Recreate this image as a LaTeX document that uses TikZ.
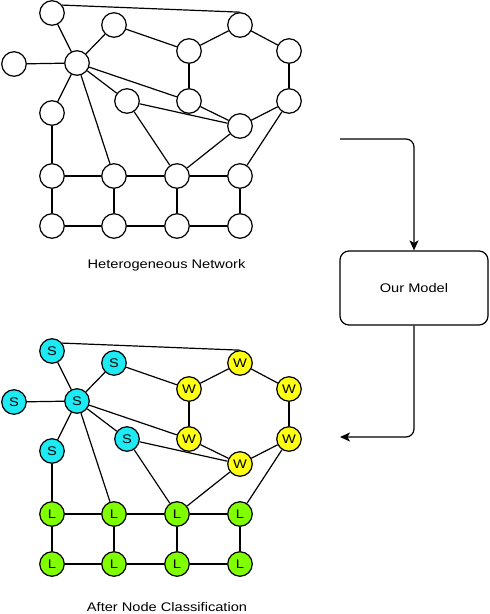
\documentclass[tikz,border=0pt]{standalone}
\usepackage{fontspec}
\setmainfont{Liberation Sans}[FakeStretch=1.17]
\usetikzlibrary{arrows.meta}
\definecolor{ncyan}{HTML}{1EEAF4}
\definecolor{nyellow}{HTML}{FFFF14}
\definecolor{ngreen}{HTML}{80FF00}
\newcommand{\mynet}[8]{%
\begin{scope}[shift={(0,#2)}]
\node[#6] (#1a) at (52,13) {#3};
\node[#6] (#1b) at (114,25) {#3};
\node[#7] (#1c) at (240,25) {#4};
\node[#7] (#1d) at (189,51) {#4};
\node[#7] (#1e) at (289,51) {#4};
\node[#6] (#1h) at (77,63) {#3};
\node[#6] (#1l) at (14,64) {#3};
\node[#6] (#1f) at (127,101) {#3};
\node[#7] (#1g) at (189,101) {#4};
\node[#7] (#1i) at (289,101) {#4};
\node[#7] (#1j) at (240,126) {#4};
\node[#6] (#1s) at (52,113) {#3};
\node[#8] (#1r1) at (52,176) {#5};
\node[#8] (#1r2) at (114,176) {#5};
\node[#8] (#1r3) at (177,176) {#5};
\node[#8] (#1r4) at (240,176) {#5};
\node[#8] (#1q1) at (52,226) {#5};
\node[#8] (#1q2) at (114,226) {#5};
\node[#8] (#1q3) at (177,226) {#5};
\node[#8] (#1q4) at (240,226) {#5};
\end{scope}
\draw[edge] (#1a.38) -- (#1c.north);
\draw[edge] (#1a) -- (#1h);
\draw[edge] (#1l) -- (#1h);
\draw[edge] (#1h) -- (#1b);
\draw[edge] (#1b) -- (#1d);
\draw[edge] (#1d) -- (#1c);
\draw[edge] (#1c) -- (#1e);
\draw[edge] (#1d) -- (#1g);
\draw[edge] (#1h) -- (#1g);
\draw[edge] (#1h) -- (#1f);
\draw[edge] (#1h) -- (#1s);
\draw[edge] (#1h) -- (#1r2);
\draw[edge] (#1g) -- (#1j);
\draw[edge] (#1f) -- (#1j);
\draw[edge] (#1f) -- (#1r3);
\draw[edge] (#1j) -- (#1r3);
\draw[edge] (#1j) -- (#1i);
\draw[edge] (#1e) -- (#1i);
\draw[edge] (#1i) -- (#1r4);
\draw[edge] (#1s) -- (#1r1);
\draw[edge] (#1r1) -- (#1r2);
\draw[edge] (#1r2) -- (#1r3);
\draw[edge] (#1r3) -- (#1r4);
\draw[edge] (#1q1) -- (#1q2);
\draw[edge] (#1q2) -- (#1q3);
\draw[edge] (#1q3) -- (#1q4);
\draw[edge] (#1r1) -- (#1q1);
\draw[edge] (#1r2) -- (#1q2);
\draw[edge] (#1r3) -- (#1q3);
\draw[edge] (#1r4) -- (#1q4);
}
\begin{document}
\begin{tikzpicture}[x=1pt,y=-1pt,
  vnode/.style={circle,draw=black,line width=1.2pt,minimum size=24.5pt,inner sep=0pt,font={\fontsize{12.5}{12.5}\selectfont}},
  plain/.style={vnode,fill=white},
  snode/.style={vnode,fill=ncyan},
  wnode/.style={vnode,fill=nyellow},
  lnode/.style={vnode,fill=ngreen},
  edge/.style={line width=1.2pt},
  caption/.style={font={\fontsize{12.5}{12.5}\selectfont}},
  flow/.style={line width=1.2pt,rounded corners=8pt,-{Stealth[length=10pt,width=9pt,inset=2.5pt]}},
  modelbox/.style={draw=black,line width=1.2pt,rounded corners=9pt,minimum width=148pt,minimum height=74pt,inner sep=0pt,fill=white,font={\fontsize{12.5}{12.5}\selectfont}}]
\useasboundingbox (0,0) rectangle (490,614);
\mynet{t}{0}{}{}{}{plain}{plain}{plain}
\mynet{b}{338}{S}{W}{L}{snode}{wnode}{lnode}
\node[caption] (lab1) at (166.5,265) {Heterogeneous Network};
\node[caption] (lab2) at (167,607) {After Node Classification};
\node[modelbox] (model) at (414,288) {Our Model};
\coordinate (in) at (340,139);
\coordinate (out) at (340,437);
\draw[flow] (in) -| (model.north);
\draw[flow] (model.south) |- (out);
\end{tikzpicture}
\end{document}
